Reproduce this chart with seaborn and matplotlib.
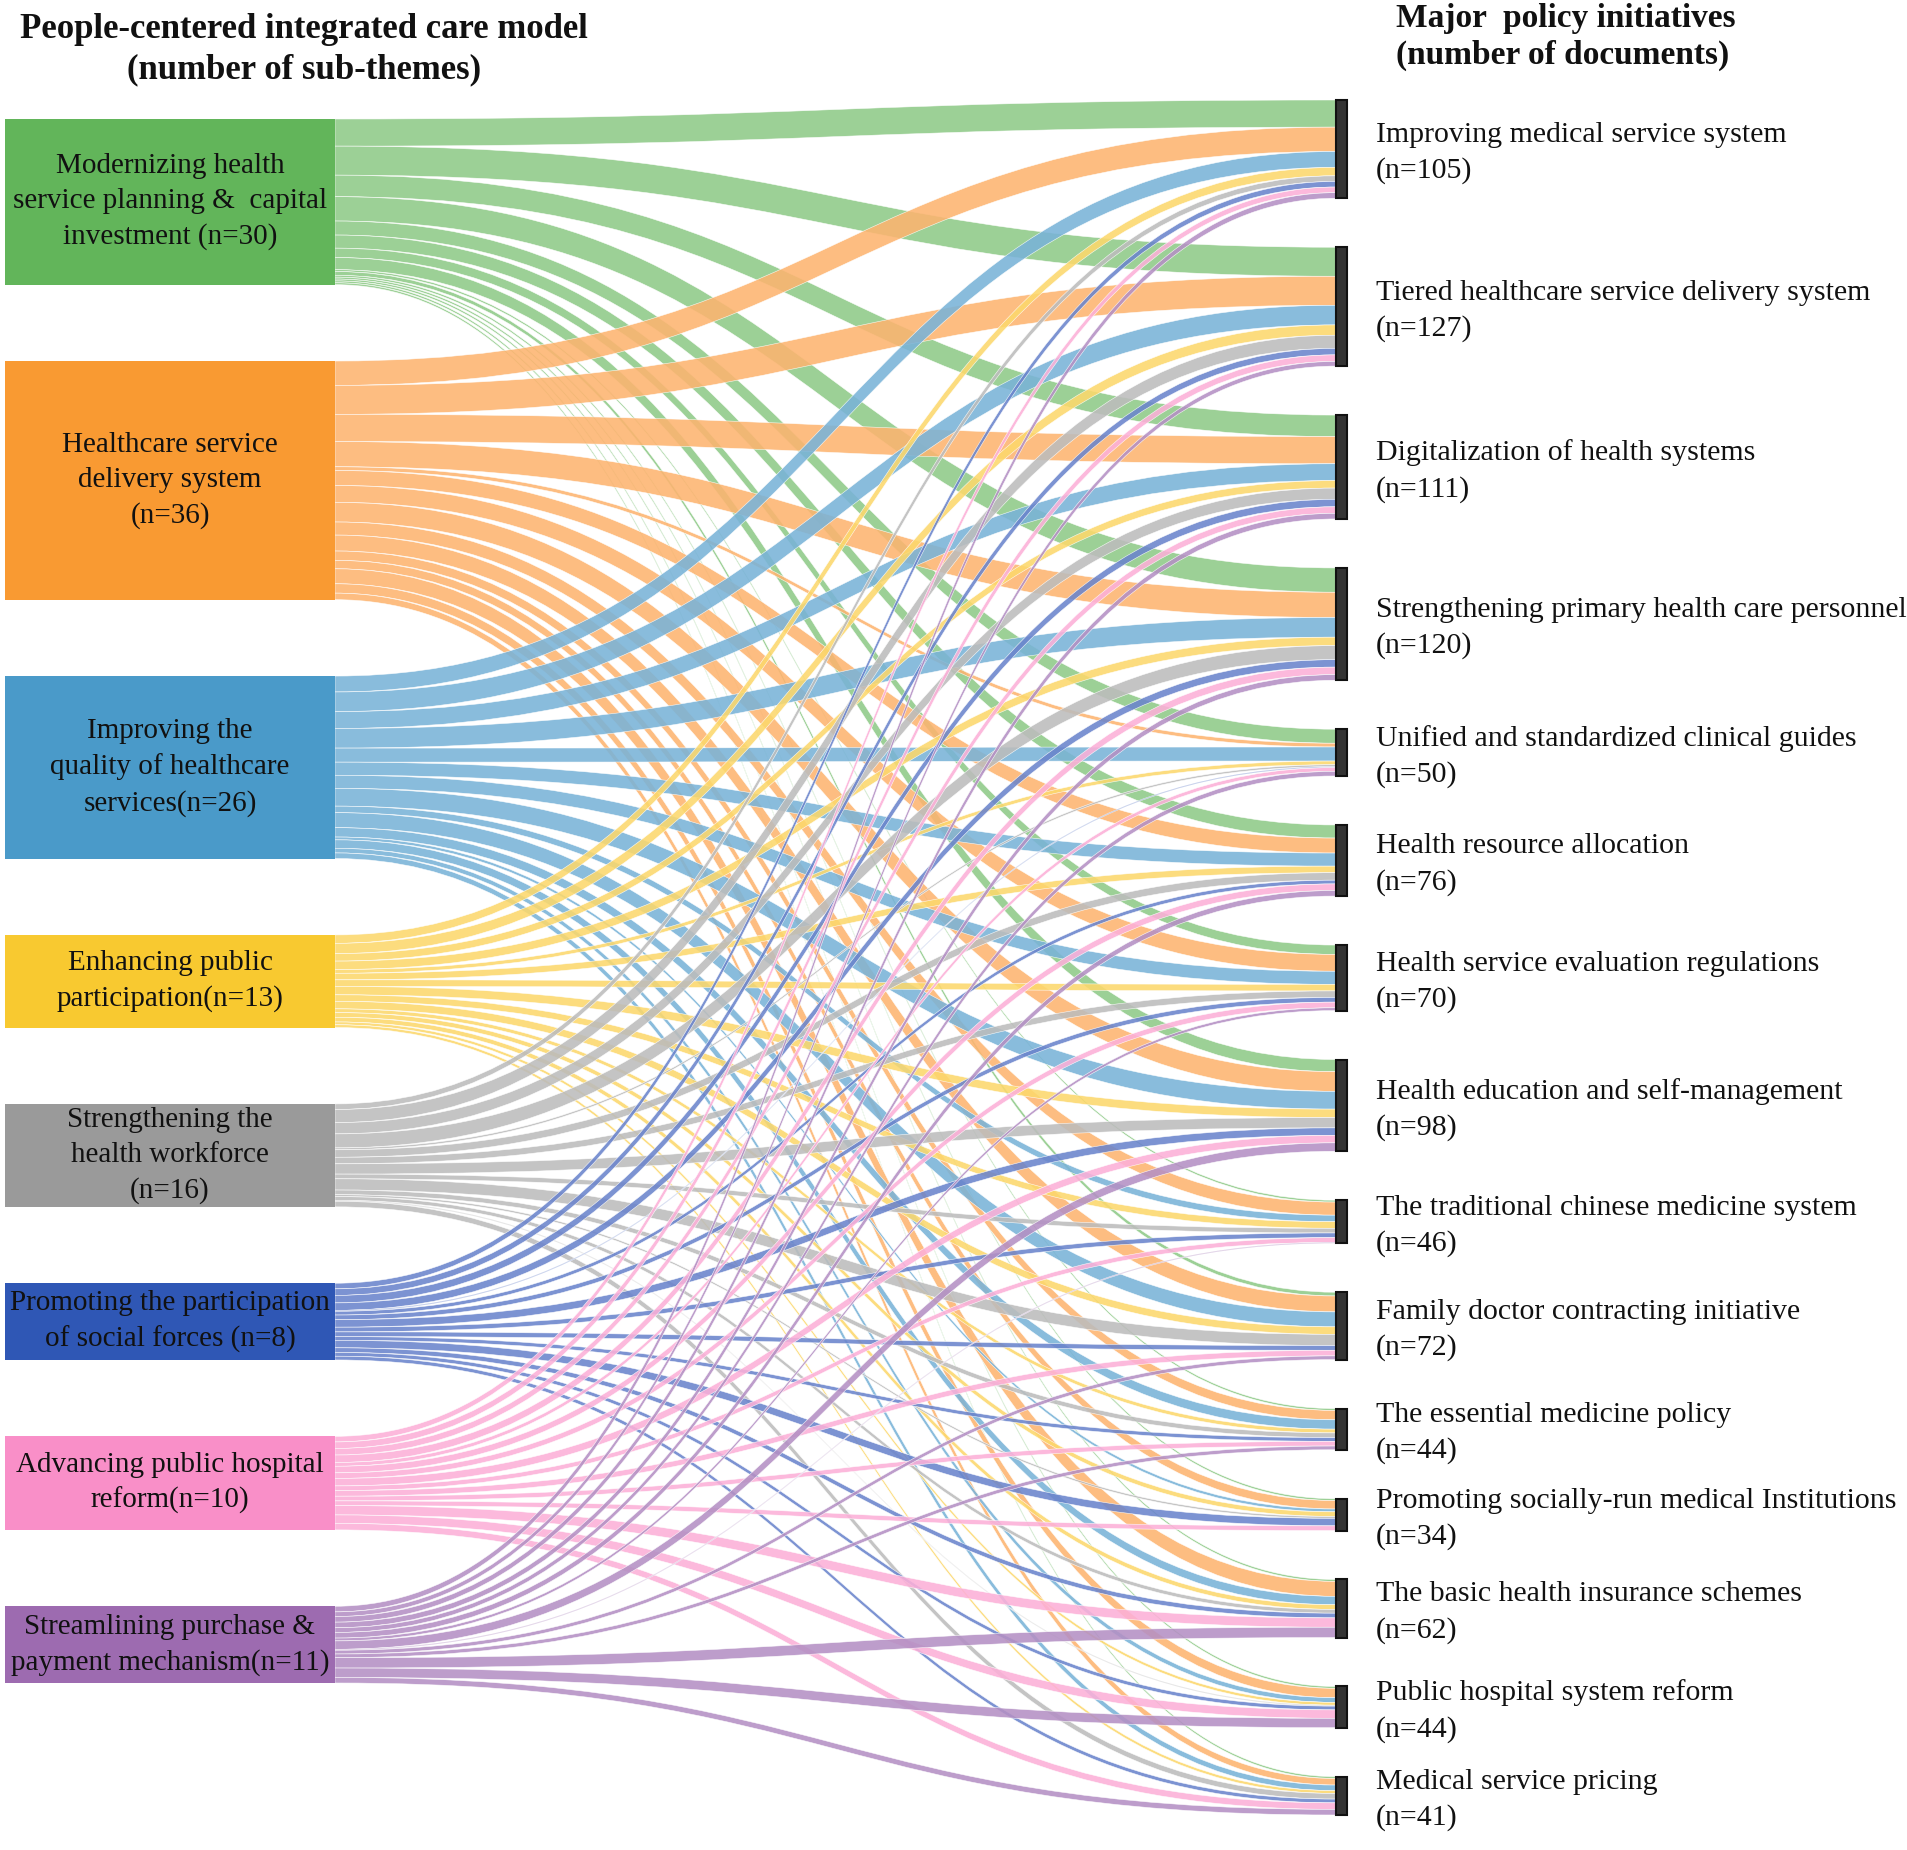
import numpy as np
import matplotlib.pyplot as plt
from matplotlib.path import Path
from matplotlib.patches import PathPatch, Rectangle
import seaborn as sns

# Source themes (left) and policy initiatives (right)
sources = [
    "Modernizing health\nservice planning &  capital\ninvestment (n=30)",
    "Healthcare service\ndelivery system\n(n=36)",
    "Improving the\nquality of healthcare\nservices(n=26)",
    "Enhancing public\nparticipation(n=13)",
    "Strengthening the\nhealth workforce\n(n=16)",
    "Promoting the participation\nof social forces (n=8)",
    "Advancing public hospital\nreform(n=10)",
    "Streamlining purchase &\npayment mechanism(n=11)",
]
targets = [
    "Improving medical service system",
    "Tiered healthcare service delivery system",
    "Digitalization of health systems",
    "Strengthening primary health care personnel",
    "Unified and standardized clinical guides",
    "Health resource allocation",
    "Health service evaluation regulations",
    "Health education and self-management",
    "The traditional chinese medicine system",
    "Family doctor contracting initiative",
    "The essential medicine policy",
    "Promoting socially-run medical Institutions",
    "The basic health insurance schemes",
    "Public hospital system reform",
    "Medical service pricing",
]
target_n = [105, 127, 111, 120, 50, 76, 70, 98, 46, 72, 44, 34, 62, 44, 41]

# flows from each source to the 15 targets (estimated from band widths)
modernizing = [29, 31, 23, 26, 15, 14, 10, 13, 2, 4, 2, 2, 2, 2, 2]
delivery = [26, 31, 29, 27, 4, 16, 18, 21, 14, 17, 10, 9, 16, 10, 7]
quality = [17, 21, 18, 21, 15, 14, 14, 19, 7, 16, 10, 3, 9, 5, 6]
participation = [9, 11, 8, 9, 4, 7, 7, 9, 7, 8, 4, 5, 5, 3, 3]
workforce = [6, 14, 12, 15, 2, 8, 7, 11, 5, 12, 5, 2, 4, 1, 6]
social = [6, 7, 8, 8, 1, 4, 5, 8, 5, 5, 4, 8, 5, 4, 4]
hospital = [6, 7, 7, 8, 4, 7, 6, 8, 5, 6, 5, 5, 10, 9, 7]
payment = [6, 5, 6, 6, 5, 6, 3, 9, 1, 4, 4, 0, 11, 10, 6]

node_colors = ["#62b55a", "#f99a32", "#4a9ac9", "#f8c930",
               "#9a9a9a", "#2f57b5", "#f98fc8", "#9d6bb0"]
flow_colors = ["#8fca88", "#fdb470", "#79b3d8", "#fcd86c",
               "#bcbcbc", "#6a84cc", "#fcb0d8", "#b490c4"]

M = np.array([modernizing, delivery, quality, participation,
              workforce, social, hospital, payment], dtype=float)
print("column sums", M.sum(axis=0), "vs", target_n)

sns.set_theme(style="white")
plt.rcParams["font.family"] = ["Liberation Serif", "DejaVu Serif"]

W, H = 1907, 1850
fig = plt.figure(figsize=(W / 100, H / 100), dpi=100)
ax = fig.add_axes([0, 0, 1, 1])
ax.set_xlim(0, W)
ax.set_ylim(H, 0)
ax.set_axis_off()

scale = 0.936
lx0, lx1 = 5, 335
rx0, rx1 = 1336, 1347

src_h = M.sum(axis=1) * scale
tgt_h = np.array(target_n) * scale

l_top, l_bot = 119, 1683
r_top, r_bot = 100, 1815
l_gap = (l_bot - l_top - src_h.sum()) / (len(sources) - 1)
r_gap = (r_bot - r_top - tgt_h.sum()) / (len(targets) - 1)
src_y = l_top + np.concatenate([[0], np.cumsum(src_h[:-1] + l_gap)])
tgt_y = r_top + np.concatenate([[0], np.cumsum(tgt_h[:-1] + r_gap)])

# where each source band lands on each target (stacked in source order)
tgt_off = tgt_y[None, :] + np.vstack([np.zeros(M.shape[1]),
                                      np.cumsum(M * scale, axis=0)[:-1]])

xm = (lx1 + rx0) / 2
for i in range(len(sources)):
    cur = src_y[i]
    for j in range(len(targets)):
        w = M[i, j] * scale
        if w <= 0:
            continue
        ys, yt = cur, tgt_off[i, j]
        verts = [(lx1, ys), (xm, ys), (xm, yt), (rx0, yt),
                 (rx0, yt + w), (xm, yt + w), (xm, ys + w), (lx1, ys + w),
                 (lx1, ys)]
        codes = [Path.MOVETO, Path.CURVE4, Path.CURVE4, Path.CURVE4,
                 Path.LINETO, Path.CURVE4, Path.CURVE4, Path.CURVE4,
                 Path.CLOSEPOLY]
        ax.add_patch(PathPatch(Path(verts, codes), facecolor=flow_colors[i],
                               edgecolor="white", lw=0.4, alpha=0.88,
                               zorder=2))
        cur += w

# left nodes
for i, lab in enumerate(sources):
    ax.add_patch(Rectangle((lx0, src_y[i]), lx1 - lx0, src_h[i],
                           facecolor=node_colors[i], edgecolor="none",
                           zorder=3))
    ax.text((lx0 + lx1) / 2, src_y[i] + src_h[i] / 2, lab, ha="center",
            va="center", fontsize=21, linespacing=1.45, color="#111111",
            zorder=4)

# right nodes
for j, lab in enumerate(targets):
    ax.add_patch(Rectangle((rx0, tgt_y[j]), rx1 - rx0, tgt_h[j],
                           facecolor="#333333", edgecolor="#111111",
                           lw=1.5, zorder=3))
    ax.text(1376, tgt_y[j] + tgt_h[j] / 2 + 4, f"{lab}\n(n={target_n[j]})",
            ha="left", va="center", fontsize=21.5, linespacing=1.45,
            color="#111111", zorder=4)

ax.text(304, 50, "People-centered integrated care model\n(number of sub-themes)",
        ha="center", va="center", fontsize=25, fontweight="bold",
        linespacing=1.3, color="#111111")
ax.text(1396, 37, "Major  policy initiatives\n(number of documents)",
        ha="left", va="center", fontsize=24, fontweight="bold",
        linespacing=1.25, color="#111111")

fig.savefig("out.png", dpi=100)
